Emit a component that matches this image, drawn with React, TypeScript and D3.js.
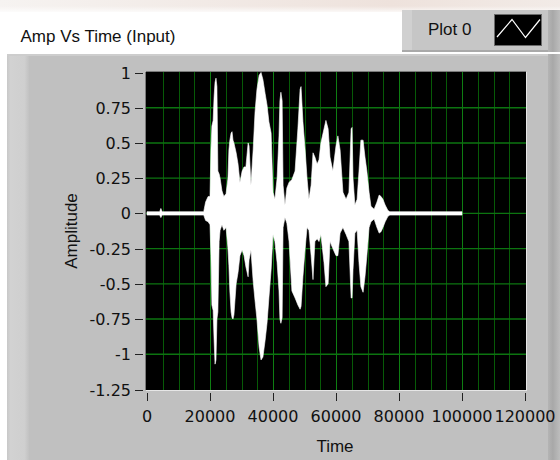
import React from "react";
import * as d3 from "d3";

// ---- data ----
const TIMES = [0, 4000, 4400, 4800, 18000, 18600, 19400, 20000, 20300, 20600, 21000, 21300, 21600, 21900, 22200, 22500, 22900, 23200, 23800, 24400, 25100, 25700, 26000, 26300, 26700, 27000, 27300, 27600, 28300, 28900, 29500, 30200, 30800, 31400, 32100, 32400, 33000, 33700, 34300, 34900, 35600, 36200, 36800, 37500, 38100, 38700, 39400, 40000, 40600, 41300, 41900, 42200, 42500, 42900, 43200, 43800, 44400, 45100, 46000, 47000, 47900, 48600, 48900, 49500, 50200, 50800, 51400, 52100, 52700, 53300, 54000, 54600, 55200, 56200, 56800, 57500, 58100, 59000, 60000, 60600, 61300, 62200, 63200, 64100, 64800, 65100, 65400, 66000, 66700, 67300, 67900, 68600, 69200, 69800, 70500, 71100, 72100, 73000, 73700, 74300, 74900, 75600, 76500, 77100, 100000];
const UPPER = [0.012, 0.012, 0.035, 0.012, 0.012, 0.08, 0.12, 0.12, 0.45, 0.62, 0.66, 0.83, 0.93, 0.96, 0.9, 0.3, 0.28, 0.25, 0.16, 0.12, 0.14, 0.25, 0.45, 0.52, 0.57, 0.58, 0.52, 0.5, 0.43, 0.35, 0.22, 0.3, 0.33, 0.33, 0.5, 0.48, 0.2, 0.45, 0.72, 0.88, 0.98, 1.0, 0.95, 0.85, 0.77, 0.65, 0.57, 0.15, 0.1, 0.25, 0.55, 0.8, 0.86, 0.8, 0.2, 0.06, 0.18, 0.22, 0.24, 0.3, 0.6, 0.88, 0.9, 0.65, 0.45, 0.25, 0.1, 0.2, 0.43, 0.4, 0.35, 0.38, 0.5, 0.6, 0.66, 0.6, 0.4, 0.3, 0.48, 0.55, 0.45, 0.15, 0.1, 0.15, 0.6, 0.61, 0.25, 0.06, 0.1, 0.3, 0.52, 0.52, 0.4, 0.3, 0.15, 0.05, 0.03, 0.08, 0.13, 0.12, 0.1, 0.06, 0.02, 0.012, 0.012];
const LOWER = [-0.012, -0.012, -0.03, -0.012, -0.012, -0.05, -0.06, -0.08, -0.3, -0.65, -0.69, -0.9, -1.07, -1.04, -0.75, -0.7, -0.2, -0.12, -0.08, -0.12, -0.1, -0.25, -0.37, -0.55, -0.7, -0.74, -0.75, -0.72, -0.5, -0.42, -0.3, -0.26, -0.3, -0.38, -0.45, -0.33, -0.26, -0.48, -0.62, -0.75, -0.95, -1.04, -1.02, -0.9, -0.78, -0.6, -0.4, -0.15, -0.2, -0.35, -0.55, -0.75, -0.78, -0.74, -0.1, -0.03, -0.07, -0.2, -0.55, -0.6, -0.65, -0.68, -0.66, -0.45, -0.25, -0.1, -0.12, -0.3, -0.47, -0.2, -0.18, -0.2, -0.15, -0.35, -0.52, -0.5, -0.2, -0.25, -0.3, -0.3, -0.14, -0.1, -0.15, -0.2, -0.6, -0.6, -0.4, -0.14, -0.12, -0.35, -0.52, -0.56, -0.45, -0.3, -0.1, -0.06, -0.04, -0.1, -0.14, -0.13, -0.1, -0.06, -0.02, -0.012, -0.012];

const Y_TICKS = [1, 0.75, 0.5, 0.25, 0, -0.25, -0.5, -0.75, -1, -1.25];
const Y_LABELS = ["1", "0.75", "0.5", "0.25", "0", "-0.25", "-0.5", "-0.75", "-1", "-1.25"];
const X_TICKS = [0, 20000, 40000, 60000, 80000, 100000, 120000];
const X_LABELS = ["0", "20000", "40000", "60000", "80000", "100000", "120000"];
const X_MINOR_STEP = 5000;

const TITLE = "Amp Vs Time (Input)";
const LEGEND = "Plot 0";
const X_TITLE = "Time";
const Y_TITLE = "Amplitude";

const FONT = "'Liberation Sans', Arial, sans-serif";
const NUM_FONT = "'DejaVu Sans', Verdana, sans-serif";

export default function App() {
  const W = 560, H = 460;
  const L = 146, R = 526, T = 72, B = 390;
  const x = d3.scaleLinear().domain([0, 120000]).range([147, 525]);
  const y = d3.scaleLinear().domain([-1.25, 1]).range([389.5, 72.5]);

  const pts = TIMES.map((t, i) => ({ t, hi: UPPER[i], lo: LOWER[i] }));
  const area = d3
    .area<{ t: number; hi: number; lo: number }>()
    .x((d) => x(d.t))
    .y0((d) => y(d.lo))
    .y1((d) => y(d.hi))
    .curve(d3.curveLinear);

  const minor = d3.range(0, 120001, X_MINOR_STEP).filter((v) => !X_TICKS.includes(v));
  const px = (v: number) => Math.round(v) + 0.5;

  return (
    <svg
      width={W}
      height={H}
      viewBox={`0 0 ${W} ${H}`}
      style={{ position: "absolute", left: 0, top: 0, display: "block" }}
    >
      <defs>
        <linearGradient id="topfade" x1="0" x2="1" y1="0" y2="0">
          <stop offset="0" stopColor="#f6f3f1" />
          <stop offset="0.7" stopColor="#eee2dc" />
          <stop offset="1" stopColor="#f2ebe7" />
        </linearGradient>
        <linearGradient id="topfadeV" x1="0" x2="0" y1="0" y2="1">
          <stop offset="0" stopColor="#ffffff" stopOpacity="0" />
          <stop offset="1" stopColor="#ffffff" stopOpacity="1" />
        </linearGradient>
        <linearGradient id="leftband" x1="0" x2="1" y1="0" y2="0">
          <stop offset="0" stopColor="#c8c8c8" />
          <stop offset="0.15" stopColor="#d2d2d2" />
          <stop offset="0.8" stopColor="#cfcfcf" />
          <stop offset="1" stopColor="#c2c2c2" />
        </linearGradient>
        <linearGradient id="rightband" x1="0" x2="1" y1="0" y2="0">
          <stop offset="0" stopColor="#b4b4b4" />
          <stop offset="0.4" stopColor="#a8a8a8" />
          <stop offset="1" stopColor="#bdbdbd" />
        </linearGradient>
      </defs>

      {/* page background */}
      <rect x={0} y={0} width={W} height={H} fill="#ffffff" />
      <rect x={0} y={0} width={W} height={12} fill="url(#topfade)" />
      <rect x={0} y={6} width={W} height={8} fill="url(#topfadeV)" />

      {/* legend box */}
      <rect x={402} y={10} width={158} height={42} fill="#c6c6c6" />
      <rect x={402} y={10} width={10} height={42} fill="#d0d0d0" />
      <rect x={402} y={50} width={158} height={2} fill="#a9a9a9" />
      <rect x={548} y={10} width={12} height={42} fill="url(#rightband)" />
      <text x={428} y={35} fontFamily={FONT} fontSize={17} fill="#111">
        {LEGEND}
      </text>
      <rect x={494} y={14} width={48} height={32} fill="#000" />
      <rect x={494.5} y={14.5} width={47} height={31} fill="none" stroke="#6a6a6a" strokeWidth={1} />
      <polyline
        points="497,37 512,19.5 525.5,37.5 540,19.5"
        fill="none"
        stroke="#ffffff"
        strokeWidth={1.2}
      />

      {/* title */}
      <text x={20.5} y={42} fontFamily={FONT} fontSize={17} fill="#111">
        {TITLE}
      </text>

      {/* main panel */}
      <rect x={7} y={54} width={553} height={406} fill="#c0c0c0" />
      <rect x={7} y={54} width={22} height={406} fill="url(#leftband)" />
      <rect x={7} y={54} width={553} height={2} fill="#cdcdcd" />
      <rect x={548} y={54} width={12} height={406} fill="url(#rightband)" />

      {/* plot area */}
      <rect x={L} y={T} width={R - L} height={B - T} fill="#000" />
      {minor.map((v) => (
        <line key={"mn" + v} x1={px(x(v))} x2={px(x(v))} y1={T} y2={B} stroke="#075a07" strokeWidth={1} />
      ))}
      {X_TICKS.filter((v) => v > 0 && v < 120000).map((v) => (
        <line key={"mj" + v} x1={px(x(v))} x2={px(x(v))} y1={T} y2={B} stroke="#0e7e12" strokeWidth={1} />
      ))}
      {Y_TICKS.filter((v) => v < 1 && v > -1.25).map((v) => (
        <line key={"hy" + v} x1={L} x2={R} y1={y(v)} y2={y(v)} stroke="#0c7410" strokeWidth={1.4} />
      ))}

      <path d={area(pts) || ""} fill="#ffffff" stroke="#ffffff" strokeWidth={0.6} />

      {/* plot frame */}
      <line x1={L - 0.5} x2={L - 0.5} y1={T} y2={B} stroke="#7a7a7a" />
      <line x1={L} x2={R} y1={T - 0.5} y2={T - 0.5} stroke="#7a7a7a" />
      <line x1={L} x2={R + 1} y1={B + 0.5} y2={B + 0.5} stroke="#e6e6e6" />
      <line x1={R + 0.5} x2={R + 0.5} y1={T} y2={B + 1} stroke="#e6e6e6" />

      {/* y axis */}
      {Y_TICKS.map((v, i) => (
        <g key={"yt" + v}>
          <line x1={135} x2={143} y1={Math.round(y(v)) + 0.5} y2={Math.round(y(v)) + 0.5} stroke="#222" strokeWidth={1} />
          <text
            x={131}
            y={y(v) + 6}
            textAnchor="end"
            fontFamily={NUM_FONT}
            fontSize={16}
            fill="#111"
          >
            {Y_LABELS[i]}
          </text>
        </g>
      ))}

      {/* x axis */}
      {X_TICKS.map((v, i) => (
        <g key={"xt" + v}>
          <line x1={px(x(v))} x2={px(x(v))} y1={393} y2={401} stroke="#222" strokeWidth={1} />
          <text x={x(v)} y={422} textAnchor="middle" fontFamily={NUM_FONT} fontSize={16} fill="#111">
            {X_LABELS[i]}
          </text>
        </g>
      ))}

      <text x={335} y={452} textAnchor="middle" fontFamily={FONT} fontSize={17} fill="#111">
        {X_TITLE}
      </text>
      <text
        transform={`translate(77,231) rotate(-90)`}
        textAnchor="middle"
        fontFamily={FONT}
        fontSize={17}
        fill="#111"
      >
        {Y_TITLE}
      </text>
    </svg>
  );
}
